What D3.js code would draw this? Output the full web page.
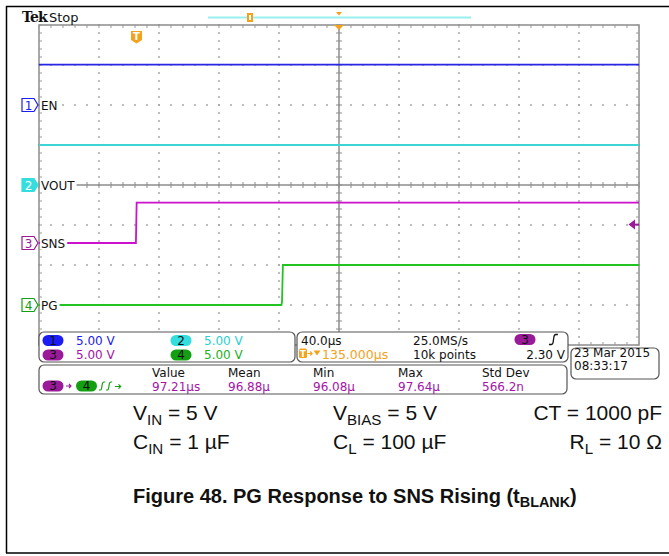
<!DOCTYPE html>
<html><head><meta charset="utf-8">
<script src="https://cdn.jsdelivr.net/npm/d3@7"></script>
<style>body{margin:0;background:#fff}svg{display:block}</style>
</head><body>
<svg id="c" width="669" height="556"></svg>
<script>
// ---------- DATA ----------
const channelNames = ["EN", "VOUT", "SNS", "PG"];
const channelNums = ["1", "2", "3", "4"];
const channelScale = ["5.00 V", "5.00 V", "5.00 V", "5.00 V"];
const groundOffsetDiv = [2, 0, -1.45, -3];      // ground position (divisions from centre)
const voltsPerDiv = [5, 5, 5, 5];
// traces: time (µs, relative to screen centre) and volts
const enT = [-200, 200];              const enV = [5.05, 5.05];
const voutT = [-200, 200];            const voutV = [5.0, 5.0];
const snsT = [-200, -135.4, -134.9, 200]; const snsV = [0, 0, 5.05, 5.05];
const pgT = [-200, -38.4, -38.0, -37.4, 200]; const pgV = [0, 0, 0.4, 5.0, 5.0];
const timeDiv = [-200, -160, -120, -80, -40, 0, 40, 80, 120, 160, 200];
const voltDiv = [-4, -3, -2, -1, 0, 1, 2, 3, 4];
const trigLevel = 2.30;
const trigTime = -135;
const measHeaders = ["Value", "Mean", "Min", "Max", "Std Dev"];
const measValues = ["97.21µs", "96.88µ", "96.08µ", "97.64µ", "566.2n"];
const timebase = ["40.0µs", "25.0MS/s", "135.000µs", "10k points", "2.30 V"];
const dateLines = ["23 Mar  2015", "08:33:17"];
const condRow1 = [["V", "IN", " = 5 V"], ["V", "BIAS", " = 5 V"], ["CT = 1000 pF", "", ""]];
const condRow2 = [["C", "IN", " = 1 µF"], ["C", "L", " = 100 µF"], ["R", "L", " = 10 Ω"]];
const caption = ["Figure 48. PG Response to SNS Rising (t", "BLANK", ")"];

// ---------- STYLE ----------
const traceColors = ["#2626e4", "#3cd4d4", "#cc12cc", "#22c422"];
const badgeColors = ["#1c1cf4", "#34dede", "#9a1a9a", "#12a012"];
const textColors = ["#2020f0", "#28d0d0", "#a414a4", "#22b022"];
const orange = "#f4a21c";
const mono = "'DejaVu Sans', sans-serif";

const svg = d3.select("#c");
svg.append("rect").attr("width", 669).attr("height", 556).attr("fill", "#fff");

// outer frame
const frame = svg.append("g").attr("stroke", "#000").attr("stroke-width", 1.5);
frame.append("line").attr("x1", 6).attr("y1", 6.5).attr("x2", 669).attr("y2", 6.5);
frame.append("line").attr("x1", 6.5).attr("y1", 6).attr("x2", 6.5).attr("y2", 553);
frame.append("line").attr("x1", 6).attr("y1", 553).attr("x2", 669).attr("y2", 553);

const x = d3.scaleLinear().domain([-200, 200]).range([39, 639]);
const yd = d3.scaleLinear().domain([-4, 4]).range([345, 25]);
const chY = (i, v) => yd(groundOffsetDiv[i] + v / voltsPerDiv[i]);

// ---------- GRATICULE ----------
const g = svg.append("g");
const minorT = d3.range(-200, 200.01, 8);
const minorV = d3.range(-4, 4.001, 0.2);
timeDiv.slice(1, -1).forEach(t => {
  if (t === 0) return;
  g.selectAll(null).data(minorV).enter().append("rect")
    .attr("x", x(t) - 0.75).attr("y", d => yd(d) - 1).attr("width", 1.5).attr("height", 2)
    .attr("fill", "#a8a8a8");
});
voltDiv.slice(1, -1).forEach(v => {
  if (v === 0) return;
  g.selectAll(null).data(minorT).enter().append("rect")
    .attr("x", d => x(d) - 1).attr("y", yd(v) - 0.75).attr("width", 2).attr("height", 1.5)
    .attr("fill", "#a8a8a8");
});
g.append("line").attr("x1", x(-200)).attr("x2", x(200)).attr("y1", yd(0)).attr("y2", yd(0))
  .attr("stroke", "#8c8c8c").attr("stroke-width", 1.5);
g.append("line").attr("x1", x(0)).attr("x2", x(0)).attr("y1", yd(-4)).attr("y2", yd(4))
  .attr("stroke", "#8c8c8c").attr("stroke-width", 1.5);
g.selectAll(null).data(minorT).enter().append("line")
  .attr("x1", d => x(d)).attr("x2", d => x(d)).attr("y1", yd(0) - 3).attr("y2", yd(0) + 3)
  .attr("stroke", "#8c8c8c").attr("stroke-width", 1);
g.selectAll(null).data(minorV).enter().append("line")
  .attr("y1", d => yd(d)).attr("y2", d => yd(d)).attr("x1", x(0) - 3).attr("x2", x(0) + 3)
  .attr("stroke", "#8c8c8c").attr("stroke-width", 1);
g.append("rect").attr("x", x(-200)).attr("y", yd(4)).attr("width", x(200) - x(-200))
  .attr("height", yd(-4) - yd(4)).attr("fill", "none").attr("stroke", "#8c8c8c").attr("stroke-width", 1.5);
g.selectAll(null).data(minorT).enter().append("line")
  .attr("x1", d => x(d)).attr("x2", d => x(d)).attr("y1", yd(4)).attr("y2", yd(4) + 3)
  .attr("stroke", "#999").attr("stroke-width", 1);
g.selectAll(null).data(minorT).enter().append("line")
  .attr("x1", d => x(d)).attr("x2", d => x(d)).attr("y1", yd(-4) - 3).attr("y2", yd(-4))
  .attr("stroke", "#999").attr("stroke-width", 1);
g.selectAll(null).data(minorV).enter().append("line")
  .attr("y1", d => yd(d)).attr("y2", d => yd(d)).attr("x1", x(-200)).attr("x2", x(-200) + 3)
  .attr("stroke", "#999").attr("stroke-width", 1);
g.selectAll(null).data(minorV).enter().append("line")
  .attr("y1", d => yd(d)).attr("y2", d => yd(d)).attr("x1", x(200) - 3).attr("x2", x(200))
  .attr("stroke", "#999").attr("stroke-width", 1);

// ---------- TRACES ----------
const traces = [[enT, enV], [voutT, voutV], [snsT, snsV], [pgT, pgV]];
traces.forEach(([ts, vs], i) => {
  const pts = ts.map((t, k) => [x(t), chY(i, vs[k])]);
  svg.append("path").attr("d", d3.line()(pts)).attr("fill", "none")
    .attr("stroke", traceColors[i]).attr("stroke-width", 1.8);
});

// ground markers + labels
channelNames.forEach((name, i) => {
  const gy = chY(i, 0);
  const lab = svg.append("text").attr("x", 41).attr("y", gy + 4.5).text(name)
    .attr("font-family", mono).attr("font-size", 12).attr("fill", "#111");
  const w = lab.node().getComputedTextLength();
  svg.insert("rect", () => lab.node()).attr("x", 40).attr("y", gy - 6).attr("width", w + 3).attr("height", 12).attr("fill", "#fff");
  const filled = i === 1;
  svg.append("path").attr("d", `M22,${gy - 6.5}H34L38,${gy}L34,${gy + 6.5}H22Z`)
    .attr("fill", filled ? badgeColors[i] : "#fff").attr("stroke", badgeColors[i]).attr("stroke-width", 1.2);
  svg.append("text").attr("x", 28.5).attr("y", gy + 4.5).attr("text-anchor", "middle").text(channelNums[i])
    .attr("font-family", mono).attr("font-size", 12).attr("fill", filled ? "#fff" : badgeColors[i]);
});

// trigger level marker (right) on ch3
const ty = chY(2, trigLevel);
svg.append("path").attr("d", `M628.5,${ty}L635,${ty - 5}V${ty + 5}Z`).attr("fill", badgeColors[2]);
svg.append("line").attr("x1", 634).attr("x2", 639).attr("y1", ty).attr("y2", ty).attr("stroke", badgeColors[2]).attr("stroke-width", 2);

// trigger position marker T
const tx = x(trigTime);
svg.append("path").attr("d", `M${tx - 5.5},31h11v9l-5.5,3.5l-5.5,-3.5Z`).attr("fill", orange);
svg.append("text").attr("x", tx).attr("y", 40).attr("text-anchor", "middle").text("T")
  .attr("font-family", mono).attr("font-weight", "bold").attr("font-size", 10).attr("fill", "#fff");
svg.append("path").attr("d", `M${x(0) - 5},25L${x(0) + 5},25L${x(0)},30Z`).attr("fill", orange);
svg.append("path").attr("d", `M${x(0) - 3},12L${x(0) + 3},12L${x(0)},15.5Z`).attr("fill", orange);
svg.append("rect").attr("x", 208).attr("y", 16.5).attr("width", 263).attr("height", 2).attr("fill", "#9af0f0");
svg.append("rect").attr("x", 247).attr("y", 13).attr("width", 6).attr("height", 9).attr("fill", orange);
svg.append("rect").attr("x", 249).attr("y", 15).attr("width", 2).attr("height", 5).attr("fill", "#fff");

// Tek Stop
svg.append("text").attr("x", 22).attr("y", 22).text("Tek").attr("font-family", "'DejaVu Serif', serif")
  .attr("font-weight", "bold").attr("font-size", 14).attr("letter-spacing", -0.8).attr("fill", "#111");
svg.append("text").attr("x", 49).attr("y", 22).text("Stop").attr("font-family", mono)
  .attr("font-size", 13).attr("fill", "#111");

// ---------- INFO BOXES ----------
function box(x0, y0, w, h) {
  svg.append("rect").attr("x", x0).attr("y", y0).attr("width", w).attr("height", h).attr("rx", 5)
    .attr("fill", "#fff").attr("stroke", "#555").attr("stroke-width", 1.2);
}
function badge(cx, cy, i, label) {
  svg.append("rect").attr("x", cx - 10.5).attr("y", cy - 5.5).attr("width", 21).attr("height", 11).attr("rx", 5.5)
    .attr("fill", badgeColors[i]);
  svg.append("text").attr("x", cx).attr("y", cy + 4.3).attr("text-anchor", "middle").text(label)
    .attr("font-family", mono).attr("font-size", 12).attr("fill", "#111");
}
function txt(x0, y0, s, col, anchor) {
  return svg.append("text").attr("x", x0).attr("y", y0).text(s).attr("font-family", mono)
    .attr("font-size", 12).attr("fill", col || "#111").attr("text-anchor", anchor || "start");
}
box(39, 332, 256, 30);
box(297, 332, 271, 30);
box(39, 365, 528, 29);
box(571, 348, 88, 31);

const chPos = [[53, 340.5], [181, 340.5], [53, 355], [181, 355]];
[0, 1, 2, 3].forEach(i => {
  badge(chPos[i][0], chPos[i][1], i, channelNums[i]);
  txt(chPos[i][0] + 23, chPos[i][1] + 4.3, channelScale[i], textColors[i]);
});
txt(301, 344.5, timebase[0]);
txt(413, 344.5, timebase[1]);
badge(525, 339.5, 2, channelNums[2]);
svg.append("path").attr("d", "M549,344.5h2.5c1.5,0,1.5,-1,1.8,-3.5l0.6,-4c0.3,-2,0.6,-2.5,2,-2.5h2")
  .attr("fill", "none").attr("stroke", "#111").attr("stroke-width", 1.3);
svg.append("rect").attr("x", 299).attr("y", 348.5).attr("width", 8).attr("height", 9.5).attr("rx", 1.5).attr("fill", orange);
svg.append("text").attr("x", 303).attr("y", 356.5).attr("text-anchor", "middle").text("T")
  .attr("font-family", mono).attr("font-weight", "bold").attr("font-size", 8.5).attr("fill", "#fff");
svg.append("path").attr("d", "M307.5,353.5h4.5M310.2,351.5l2,2l-2,2").attr("stroke", orange).attr("stroke-width", 1.1).attr("fill", "none");
svg.append("path").attr("d", "M313.5,350.5h7l-3.5,5Z").attr("fill", orange);
txt(322, 358.5, timebase[2], orange).attr("font-size", 12.5);
txt(413, 358.5, timebase[3]);
txt(565, 358.5, timebase[4], "#111", "end");
dateLines.forEach((s, k) => txt(574, 357 + k * 13, s).attr("font-size", 12));
badge(53, 386, 2, channelNums[2]);
svg.append("path").attr("d", "M66,386h5M69,384l2,2l-2,2").attr("stroke", badgeColors[2]).attr("stroke-width", 1.1).attr("fill", "none");
badge(86.5, 386, 3, channelNums[3]);
svg.append("path").attr("d", "M99,390h1.5c1,0,1,-1,1.3,-3l0.4,-2.5c0.3,-2,0.5,-2.5,1.8,-2.5h1.2M106,390h1.5c1,0,1,-1,1.3,-3l0.4,-2.5c0.3,-2,0.5,-2.5,1.8,-2.5h1.2M115,386.5h6M118.5,384.3l2.2,2.2l-2.2,2.2")
  .attr("fill", "none").attr("stroke", badgeColors[3]).attr("stroke-width", 1.2);
const measX = [152, 228, 313, 398, 482];
measHeaders.forEach((h, k) => txt(measX[k], 376.5, h));
measValues.forEach((v, k) => txt(measX[k], 390.5, v, textColors[2]));

// ---------- CONDITIONS & CAPTION ----------
const sans = "'Liberation Sans', Arial, sans-serif";
function subText(x0, y0, parts, anchor, size, bold) {
  const t = svg.append("text").attr("x", x0).attr("y", y0).attr("font-family", sans)
    .attr("font-size", size).attr("fill", "#111").attr("text-anchor", anchor || "start");
  if (bold) t.attr("font-weight", "bold");
  t.append("tspan").text(parts[0]);
  if (parts[1]) t.append("tspan").attr("font-size", size * 0.72).attr("dy", size * 0.22).text(parts[1]);
  if (parts[2]) t.append("tspan").attr("dy", parts[1] ? -size * 0.22 : 0).text(parts[2]);
  return t;
}
const condX = [133, 333, 662];
const condAnchor = ["start", "start", "end"];
condRow1.forEach((p, k) => subText(condX[k], 420, p, condAnchor[k], 21));
condRow2.forEach((p, k) => subText(condX[k], 449, p, condAnchor[k], 21));
subText(133, 503, caption, "start", 20, true);
</script>
</body></html>
